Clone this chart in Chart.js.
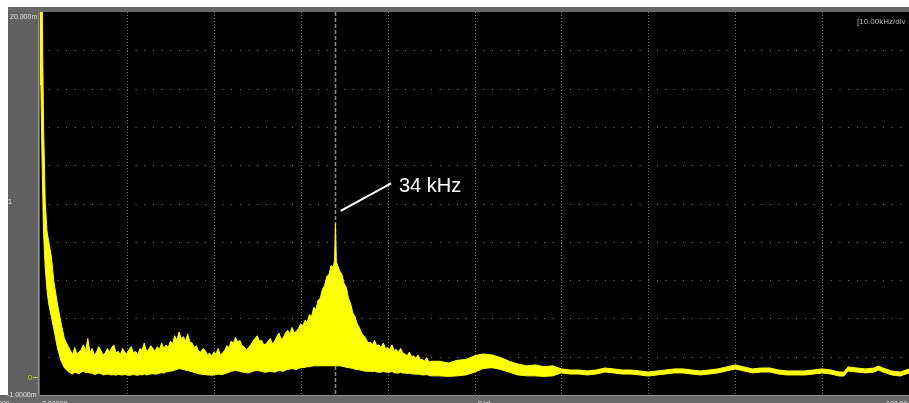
<!DOCTYPE html>
<html>
<head>
<meta charset="utf-8">
<script src="https://cdn.jsdelivr.net/npm/chart.js@4.4.1/dist/chart.umd.min.js"></script>
<style>
  html, body { margin: 0; padding: 0; background: #fff; }
  #wrap { position: relative; width: 909px; height: 403px; }
</style>
</head>
<body>
<div id="wrap"><canvas id="fft" width="909" height="403"></canvas></div>
<script>
// Frequency axis (kHz) of the FFT trace
const freqKHz = [
  0, 0.1, 0.25, 0.4, 0.6, 0.8, 1.0, 1.3, 1.6, 2.0, 2.4, 2.8, 3.2,
  3.5, 3.75,
  4, 4.25, 4.5, 4.75,
  5, 5.25, 5.5, 5.75,
  6, 6.25, 6.5, 6.75,
  7, 7.25, 7.5, 7.75,
  8, 8.25, 8.5, 8.75,
  9, 9.25, 9.5, 9.75,
  10, 10.25, 10.5, 10.75,
  11, 11.25, 11.5, 11.75,
  12, 12.25, 12.5, 12.75,
  13, 13.25, 13.5, 13.75,
  14, 14.25, 14.5, 14.75,
  15, 15.25, 15.5, 15.75,
  16, 16.25, 16.5, 16.75,
  17, 17.25, 17.5, 17.75,
  18, 18.25, 18.5, 18.75,
  19, 19.25, 19.5, 19.75,
  20, 20.25, 20.5, 20.75,
  21, 21.25, 21.5, 21.75,
  22, 22.25, 22.5, 22.75,
  23, 23.25, 23.5, 23.75,
  24, 24.25, 24.5, 24.75,
  25, 25.25, 25.5, 25.75,
  26, 26.25, 26.5, 26.75,
  27, 27.25, 27.5, 27.75,
  28, 28.25, 28.5, 28.75,
  29, 29.25, 29.5, 29.75,
  30, 30.25, 30.5, 30.75,
  31, 31.25, 31.5, 31.75,
  32, 32.25, 32.5, 32.75,
  33, 33.25, 33.5, 33.75,
  33.9, 34, 34.1, 34.25, 34.5, 34.75,
  35, 35.25, 35.5, 35.75,
  36, 36.25, 36.5, 36.75,
  37, 37.25, 37.5, 37.75,
  38, 38.25, 38.5, 38.75,
  39, 39.25, 39.5, 39.75,
  40, 40.25, 40.5, 40.75,
  41, 41.25, 41.5, 41.75,
  42, 42.25, 42.5, 42.75,
  43, 43.25, 43.5, 43.75,
  44, 44.25, 44.5, 44.75,
  45,
  46, 47, 48, 49, 50, 51, 52, 53, 54, 55, 56, 57, 58, 59, 60,
  61, 62, 63, 64, 65, 66, 67, 68, 69, 70,
  71, 72, 73, 74, 75, 76, 77, 78, 79, 80,
  81, 82, 83, 84, 85, 86, 87, 88, 89, 90,
  91, 92, 92.5, 93, 94, 95, 96, 96.5, 97, 98, 99, 100
];

// Top edge of the noisy yellow band (m)
const upperM = [
  20.5, 20.5, 20.5, 14.0, 9.6, 8.0, 7.4, 6.6, 5.2, 4.0, 3.0, 2.1, 1.7,
  1.45, 1.2,
  1.6, 1.25, 1.35, 1.5,
  1.75, 1.4, 2.1, 1.3,
  1.55, 1.2, 1.35, 1.65,
  1.45, 1.2, 1.3, 1.55,
  1.35, 1.6, 1.75, 1.3,
  1.4, 1.2, 1.55, 1.35,
  1.25, 1.5, 1.65, 1.3,
  1.4, 1.2, 1.55, 1.45,
  1.85, 1.4, 1.5, 1.7,
  1.55, 1.4, 1.65, 1.5,
  1.85, 1.55, 1.75, 1.6,
  1.95, 1.8, 2.25, 2.0,
  2.45, 2.1, 2.2, 1.95,
  2.35, 1.9, 1.85, 1.6,
  1.7, 1.4, 1.35, 1.55,
  1.45, 1.2, 1.3, 1.15,
  1.35, 1.25, 1.55, 1.2,
  1.3, 1.45, 1.7, 1.6,
  1.95, 1.85, 2.15, 1.9,
  2.0, 1.7, 1.65, 1.45,
  1.6, 1.75, 1.95, 2.1,
  2.25, 1.95, 2.0, 1.75,
  1.8, 1.95, 2.1, 1.8,
  1.95, 2.2, 2.4, 2.05,
  2.15, 2.4, 2.55, 2.35,
  2.7, 2.4, 2.5, 2.65,
  2.9, 2.8, 3.1, 3.0,
  3.4, 3.3, 3.8, 3.7,
  4.2, 4.3, 4.8, 5.0,
  5.5, 5.6, 6.1, 6.0,
  6.4, 8.4, 6.3, 6.1, 5.8, 5.6,
  5.1, 4.9, 4.3, 4.0,
  3.5, 3.3, 2.9, 2.7,
  2.4, 2.25, 2.1, 1.85,
  1.9, 1.75, 2.0, 1.7,
  1.75, 1.6, 1.85, 1.55,
  1.6, 1.5, 1.75, 1.45,
  1.5, 1.35, 1.55, 1.3,
  1.25, 1.15, 1.35, 1.1,
  1.15, 1.0, 1.2, 0.95,
  0.95, 0.85, 1.05, 0.8,
  0.85,
  0.85, 0.75, 0.9, 0.95, 1.15, 1.25, 1.2, 1.05, 0.85, 0.7, 0.6, 0.65, 0.55, 0.6, 0.43,
  0.37, 0.37, 0.32, 0.37, 0.48, 0.43, 0.37, 0.37, 0.32, 0.26,
  0.32, 0.37, 0.43, 0.43, 0.37, 0.32, 0.37, 0.43, 0.54, 0.65,
  0.54, 0.43, 0.48, 0.48, 0.37, 0.32, 0.32, 0.32, 0.37, 0.43,
  0.37, 0.26, 0.26, 0.54, 0.48, 0.43, 0.48, 0.59, 0.48, 0.32, 0.26, 0.43
];

// Bottom edge of the yellow band (m)
const lowerM = [
  20.5, 16.0, 11.5, 8.0, 6.0, 4.8, 4.0, 3.3, 2.6, 1.6, 0.9, 0.5, 0.3,
  0.2, 0.15,
  0.25, 0.2, 0.18, 0.25,
  0.3, 0.22, 0.25, 0.2,
  0.2, 0.12, 0.15, 0.2,
  0.18, 0.1, 0.12, 0.15,
  0.12, 0.1, 0.12, 0.08,
  0.14, 0.1, 0.1, 0.12,
  0.1, 0.08, 0.1, 0.12,
  0.1, 0.08, 0.12, 0.1,
  0.15, 0.1, 0.12, 0.15,
  0.18, 0.14, 0.16, 0.2,
  0.22, 0.2, 0.26, 0.28,
  0.3, 0.32, 0.36, 0.4,
  0.45, 0.42, 0.4, 0.36,
  0.35, 0.3, 0.28, 0.22,
  0.2, 0.16, 0.15, 0.12,
  0.12, 0.1, 0.1, 0.08,
  0.1, 0.12, 0.15, 0.12,
  0.12, 0.16, 0.2, 0.25,
  0.3, 0.32, 0.35, 0.32,
  0.3, 0.26, 0.25, 0.22,
  0.2, 0.25, 0.3, 0.33,
  0.35, 0.32, 0.3, 0.26,
  0.25, 0.28, 0.3, 0.27,
  0.25, 0.3, 0.35, 0.32,
  0.3, 0.36, 0.4, 0.42,
  0.45, 0.42, 0.4, 0.45,
  0.5, 0.5, 0.52, 0.55,
  0.55, 0.58, 0.6, 0.6,
  0.6, 0.6, 0.6, 0.6,
  0.6, 0.6, 0.6, 0.6,
  0.6, 0.6, 0.6, 0.6, 0.6, 0.58,
  0.55, 0.52, 0.5, 0.48,
  0.45, 0.42, 0.4, 0.38,
  0.35, 0.32, 0.3, 0.3,
  0.3, 0.28, 0.3, 0.26,
  0.25, 0.25, 0.3, 0.26,
  0.25, 0.25, 0.3, 0.22,
  0.2, 0.2, 0.25, 0.2,
  0.2, 0.18, 0.2, 0.16,
  0.15, 0.14, 0.15, 0.12,
  0.1, 0.1, 0.12, 0.08,
  0.05,
  0.05, 0.02, 0.05, 0.1, 0.25, 0.45, 0.5, 0.4, 0.25, 0.1, 0.05, 0.05, 0.02, 0.05, 0.21,
  0.15, 0.15, 0.10, 0.15, 0.26, 0.21, 0.15, 0.15, 0.10, 0.04,
  0.10, 0.15, 0.21, 0.21, 0.15, 0.10, 0.15, 0.21, 0.32, 0.43,
  0.32, 0.21, 0.26, 0.26, 0.15, 0.10, 0.10, 0.10, 0.15, 0.21,
  0.15, 0.04, 0.04, 0.32, 0.26, 0.21, 0.26, 0.37, 0.26, 0.10, 0.04, 0.21
];

// Screen divisions: 10 x 10 kHz, 10 x 2.1 m
const xDivKHz = [10, 20, 30, 40, 50, 60, 70, 80, 90];
const yDivM = [1.1, 3.2, 5.3, 7.4, 9.5, 11.6, 13.7, 15.8, 17.9];

// Axis / screen labels
const yTopLabel = '20.000m';
const yMidLabel = '1';
const yBottomLabel = '-1.0000m';
const zeroLabel = '0';
const xLeftLabel = '2.00000';
const xLeftCut = '000';
const xUnitLabel = '[Hz]';
const xRightLabel = '100.00';
const scaleLabel = '[10.00kHz/div';

// Marker
const markerKHz = 34;
const markerText = '34 kHz';

const YELLOW = '#ffff00';

const scopeFrame = {
    id: 'scopeFrame',
    beforeDraw(chart) {
        const { ctx, chartArea: a, width, height } = chart;
        ctx.save();
        ctx.fillStyle = '#ffffff';
        ctx.fillRect(0, 0, width, height);
        // side panel + top bar + bottom bar
        ctx.fillStyle = '#616161';
        ctx.fillRect(8, 7, 32, height - 7);
        ctx.fillStyle = '#666666';
        ctx.fillRect(8, 7, width - 8, a.top - 7);
        ctx.fillStyle = '#686868';
        ctx.fillRect(0, a.bottom, width, height - a.bottom);
        ctx.fillStyle = '#8e8e8e';
        ctx.fillRect(a.left - 2, a.top, 1, a.bottom - a.top);
        ctx.fillRect(a.left - 1, a.bottom, width, 1);
        // screen
        ctx.fillStyle = '#000000';
        ctx.fillRect(a.left, a.top, a.right - a.left, a.bottom - a.top);
        ctx.restore();
    }
};

const scopeGrid = {
    id: 'scopeGrid',
    beforeDatasetsDraw(chart) {
        const { ctx, chartArea: a, scales: { x, y } } = chart;
        ctx.save();
        ctx.lineWidth = 1;
        ctx.strokeStyle = '#707070';

        // vertical division lines
        ctx.setLineDash([1, 2]);
        xDivKHz.forEach(v => {
            const px = Math.round(x.getPixelForValue(v)) + 0.5;
            ctx.beginPath();
            ctx.moveTo(px, a.top);
            ctx.lineTo(px, a.bottom);
            ctx.stroke();
        });

        // horizontal division lines (dot on every minor division)
        const minor = (x.getPixelForValue(10) - x.getPixelForValue(0)) / 10;
        ctx.setLineDash([1, minor - 1]);
        yDivM.forEach(v => {
            const py = Math.round(y.getPixelForValue(v)) + 0.5;
            ctx.beginPath();
            ctx.moveTo(a.left + minor, py);
            ctx.lineTo(a.right, py);
            ctx.stroke();
        });

        // cursor at marker frequency
        ctx.strokeStyle = '#8c8c8c';
        ctx.lineWidth = 1.5;
        ctx.setLineDash([4, 2]);
        const cx = Math.round(x.getPixelForValue(markerKHz)) + 0.5;
        ctx.beginPath();
        ctx.moveTo(cx, a.top);
        ctx.lineTo(cx, a.bottom);
        ctx.stroke();
        ctx.restore();
    }
};

const scopeLabels = {
    id: 'scopeLabels',
    afterDatasetsDraw(chart) {
        const { ctx, chartArea: a, scales: { x, y } } = chart;
        ctx.save();

        // callout for the peak
        ctx.strokeStyle = '#ffffff';
        ctx.lineWidth = 2;
        ctx.beginPath();
        ctx.moveTo(x.getPixelForValue(markerKHz + 0.6), y.getPixelForValue(9.1));
        ctx.lineTo(x.getPixelForValue(markerKHz + 6.4), y.getPixelForValue(10.6));
        ctx.stroke();
        ctx.fillStyle = '#ffffff';
        ctx.font = '20px "Liberation Sans", Arial, sans-serif';
        ctx.textBaseline = 'alphabetic';
        ctx.fillText(markerText, x.getPixelForValue(markerKHz + 7.3), y.getPixelForValue(10.15));

        // small scope labels
        ctx.font = '7px "Liberation Sans", Arial, sans-serif';
        ctx.fillStyle = '#e4e4e4';
        ctx.fillText(yTopLabel, 10, 19);
        ctx.fillText(yMidLabel, 8, 204);
        ctx.fillText(yBottomLabel, 7, 397);
        ctx.fillText(xLeftCut, -2, 406);
        ctx.fillText(xLeftLabel, a.left + 2, 406);
        ctx.fillText(xUnitLabel, 478, 406);
        ctx.fillText(xRightLabel, 886, 406);

        // zero reference marker
        const zy = Math.round(y.getPixelForValue(0)) + 0.5;
        ctx.fillStyle = '#c9c93a';
        ctx.fillText(zeroLabel, 28, zy + 2.5);
        ctx.strokeStyle = '#c9c93a';
        ctx.lineWidth = 1;
        ctx.beginPath();
        ctx.moveTo(33, zy);
        ctx.lineTo(a.left - 2, zy);
        ctx.stroke();

        ctx.font = '8px "Liberation Sans", Arial, sans-serif';
        ctx.fillStyle = '#b4b4b4';
        ctx.fillText(scaleLabel, 857, 24);
        ctx.restore();
    }
};

const ctx = document.getElementById('fft').getContext('2d');
new Chart(ctx, {
    type: 'line',
    data: {
        datasets: [
            {
                label: 'upper',
                data: freqKHz.map((f, i) => ({ x: f, y: upperM[i] })),
                borderColor: YELLOW,
                backgroundColor: YELLOW,
                borderWidth: 1,
                fill: '+1'
            },
            {
                label: 'lower',
                data: freqKHz.map((f, i) => ({ x: f, y: lowerM[i] })),
                borderColor: YELLOW,
                backgroundColor: YELLOW,
                borderWidth: 1,
                fill: false
            }
        ]
    },
    options: {
        responsive: false,
        animation: false,
        layout: { padding: { left: 40, top: 12, right: 0, bottom: 8 } },
        elements: { point: { radius: 0 }, line: { tension: 0 } },
        plugins: { legend: { display: false }, tooltip: { enabled: false } },
        scales: {
            x: { type: 'linear', display: false, min: 0, max: 100 },
            y: { type: 'linear', display: false, min: -1, max: 20 }
        }
    },
    plugins: [scopeFrame, scopeGrid, scopeLabels]
});
</script>
</body>
</html>
